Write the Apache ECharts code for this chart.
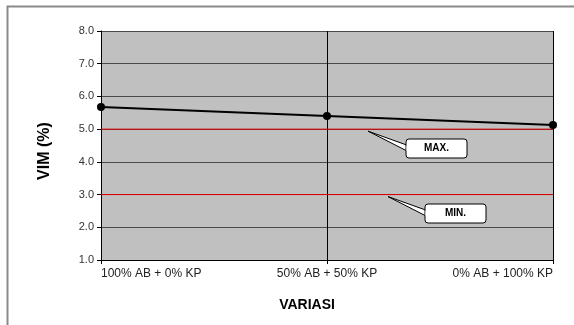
<!DOCTYPE html>
<html>
<head>
<meta charset="utf-8">
<script src="https://cdn.jsdelivr.net/npm/echarts@6/dist/echarts.min.js"></script>
<style>
  html, body { margin: 0; padding: 0; background: #fff; }
  #chart { width: 574px; height: 325px; }
</style>
</head>
<body>
<div id="chart"></div>
<script>
// Variation mixes on the x axis
const categories = ['100% AB + 0% KP', '50% AB + 50% KP', '0% AB + 100% KP'];
// VIM (%) measured for each mix
const vimValues = [5.68, 5.40, 5.13];
// Specification limits, one value per mix
const maxValues = [5.0, 5.0, 5.0];
const minValues = [3.0, 3.0, 3.0];
const limitLabels = ['MAX.', 'MIN.'];
// Y axis range and step
const yMin = 1, yMax = 8, yStep = 1;

const FONT = '"Liberation Sans", Arial, sans-serif';
const chart = echarts.init(document.getElementById('chart'), null, { renderer: 'canvas' });

function limitSeries(name, values) {
  return {
    name: name,
    type: 'line',
    data: values,
    symbol: 'none',
    z: 4,
    silent: true,
    lineStyle: { color: '#e00000', width: 1 }
  };
}

const option = {
  animation: false,
  backgroundColor: '#ffffff',
  grid: { left: 101, top: 31, right: 21, bottom: 65, show: true, backgroundColor: '#c0c0c0', borderWidth: 0 },
  xAxis: {
    type: 'category',
    data: categories,
    boundaryGap: false,
    axisLine: { show: true, lineStyle: { color: '#000', width: 1 } },
    axisTick: { show: true, length: 4, lineStyle: { color: '#000' } },
    axisLabel: { color: '#222', fontSize: 12, fontFamily: FONT, margin: 8,
                 alignMinLabel: 'left', alignMaxLabel: 'right' },
    splitLine: { show: true, lineStyle: { color: '#000', width: 1 } }
  },
  yAxis: {
    type: 'value',
    min: yMin, max: yMax, interval: yStep,
    axisLine: { show: true, lineStyle: { color: '#000', width: 1 } },
    axisTick: { show: true, length: 4, lineStyle: { color: '#000' } },
    axisLabel: { color: '#333', fontSize: 11, fontFamily: FONT, margin: 7,
                 formatter: v => v.toFixed(1) },
    splitLine: { show: true, lineStyle: { color: '#4a4a4a', width: 1 } }
  },
  series: [
    limitSeries('max', maxValues),
    limitSeries('min', minValues),
    {
      name: 'VIM',
      type: 'line',
      data: vimValues,
      symbol: 'circle',
      symbolSize: 8,
      lineStyle: { color: '#000', width: 2 },
      itemStyle: { color: '#000' },
      z: 5
    }
  ]
};
chart.setOption(option);

// Callout boxes pointing at the limit lines
function callout(label, limit, tipX, boxX, boxY) {
  const ly = chart.convertToPixel({ yAxisIndex: 0 }, limit);
  const tipY = ly + 2;
  const w = 61, h = 19;
  const baseY = boxY + h / 2;
  return [
    {
      type: 'polygon', z: 20,
      shape: { points: [[tipX, tipY], [boxX + 2, baseY - 3], [boxX + 2, baseY + 3]] },
      style: { fill: '#fff', stroke: '#000', lineWidth: 1 }
    },
    {
      type: 'rect', z: 21,
      shape: { x: boxX, y: boxY, width: w, height: h, r: 3 },
      style: { fill: '#fff', stroke: '#000', lineWidth: 1 }
    },
    {
      type: 'polygon', z: 22,
      shape: { points: [[boxX + 0.5, baseY - 2.5], [boxX + 3, baseY - 2.5], [boxX + 3, baseY + 2.5], [boxX + 0.5, baseY + 2.5]] },
      style: { fill: '#fff' }
    },
    {
      type: 'text', z: 23,
      style: { text: label, x: boxX + w / 2, y: baseY, align: 'center', verticalAlign: 'middle',
               font: 'bold 10px ' + FONT, fill: '#000' }
    }
  ];
}

chart.setOption({
  graphic: [
    { type: 'rect', z: 0, silent: true,
      shape: { x: 7.5, y: 6.5, width: 700, height: 500 },
      style: { fill: 'none', stroke: '#8a8a8a', lineWidth: 2 } },
    { type: 'text', z: 10, rotation: Math.PI / 2, x: 45, y: 151,
      style: { text: 'VIM (%)', align: 'center', verticalAlign: 'middle',
               font: 'bold 16px ' + FONT, fill: '#000' } },
    { type: 'text', z: 10, x: 307, y: 305,
      style: { text: 'VARIASI', align: 'center', verticalAlign: 'middle',
               font: 'bold 14px ' + FONT, fill: '#000' } }
  ].concat(
    callout(limitLabels[0], maxValues[0], 368, 406, 139),
    callout(limitLabels[1], minValues[0], 388, 425, 204)
  )
});
</script>
</body>
</html>
